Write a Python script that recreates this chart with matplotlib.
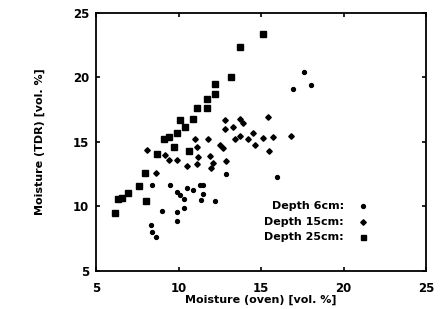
import numpy as np
import matplotlib.pyplot as plt

# depth 6cm (small dots)
x6 = [8.3, 8.4, 8.6, 9.0, 9.5, 9.9, 9.9, 9.9, 10.1, 10.3, 10.3, 10.5, 10.9, 11.3,
      11.35, 11.5, 11.5, 12.2, 8.4, 8.0, 15.95, 16.9, 17.6, 18.0, 12.9]
y6 = [8.6, 8.05, 7.6, 9.65, 11.7, 11.1, 9.6, 8.9, 10.9, 10.6, 9.9, 11.4, 11.3, 11.7,
      10.5, 11.7, 11.0, 10.4, 11.7, 10.4, 12.3, 19.1, 20.4, 19.4, 12.5]

# depth 15cm (diamonds)
x15 = [8.07, 8.6, 9.2, 9.4, 9.9, 10.5, 11.0, 11.1, 11.1, 11.2, 11.8, 11.9, 11.95,
       12.1, 12.5, 12.7, 12.8, 12.8, 12.9, 13.3, 13.4, 13.7, 13.9, 13.7, 14.2,
       14.5, 14.6, 15.1, 15.4, 15.5, 15.7, 16.8]
y15 = [14.4, 12.6, 14.0, 13.6, 13.6, 13.1, 15.2, 14.6, 13.3, 13.8, 15.2, 13.9, 13.0,
       13.4, 14.8, 14.5, 16.7, 16.0, 13.5, 16.2, 15.2, 16.8, 16.5, 15.5, 15.2,
       15.7, 14.8, 15.3, 16.9, 14.3, 15.4, 15.5]

# depth 25cm (squares)
x25 = [6.15, 6.35, 6.55, 6.95, 7.6, 7.97, 8.0, 8.7, 9.1, 9.4, 9.7, 9.9, 10.1, 10.4,
       10.6, 10.9, 11.1, 11.7, 11.7, 12.2, 12.2, 13.2, 13.7, 15.1]
y25 = [9.5, 10.6, 10.65, 11.05, 11.6, 12.6, 10.4, 14.1, 15.2, 15.4, 14.6, 15.7, 16.7,
       16.2, 14.3, 16.8, 17.6, 17.6, 18.3, 18.7, 19.5, 20.0, 22.4, 23.4]

plt.rcParams['font.family'] = 'DejaVu Sans'
plt.rcParams['font.weight'] = 'bold'

fig = plt.figure(figsize=(4.43, 3.09), dpi=100)
ax = fig.add_axes([0.217, 0.123, 0.745, 0.835])

ax.plot(x6, y6, 'o', color='black', markersize=2.8, linestyle='none')
ax.plot(x15, y15, 'D', color='black', markersize=2.8, linestyle='none')
ax.plot(x25, y25, 's', color='black', markersize=4.6, linestyle='none')

ax.set_xlim(5, 25)
ax.set_ylim(5, 25)
ax.set_xticks([5, 10, 15, 20, 25])
ax.set_yticks([5, 10, 15, 20, 25])
ax.tick_params(direction='in', top=True, right=True, length=3, width=1.2,
               labelsize=8.5)
ax.tick_params(axis='x', pad=8)
ax.tick_params(axis='y', pad=5)
for s in ax.spines.values():
    s.set_linewidth(1.3)

ax.set_xlabel('Moisture (oven) [vol. %]', fontsize=8, fontweight='bold', labelpad=0)
ax.set_ylabel('Moisture (TDR) [vol. %]', fontsize=8, fontweight='bold', labelpad=20)

# legend drawn as text with markers
labels = ['Depth 6cm:', 'Depth 15cm:', 'Depth 25cm:']
markers = ['o', 'D', 's']
msizes = [2.8, 2.8, 3.6]
for i, (lab, m, ms) in enumerate(zip(labels, markers, msizes)):
    yy = 10.0 - i * 1.18
    ax.text(20.0, yy, lab, ha='right', va='center', fontsize=8, fontweight='bold')
    ax.plot([21.2], [yy], m, color='black', markersize=ms)

fig.savefig('out.png', dpi=100)
